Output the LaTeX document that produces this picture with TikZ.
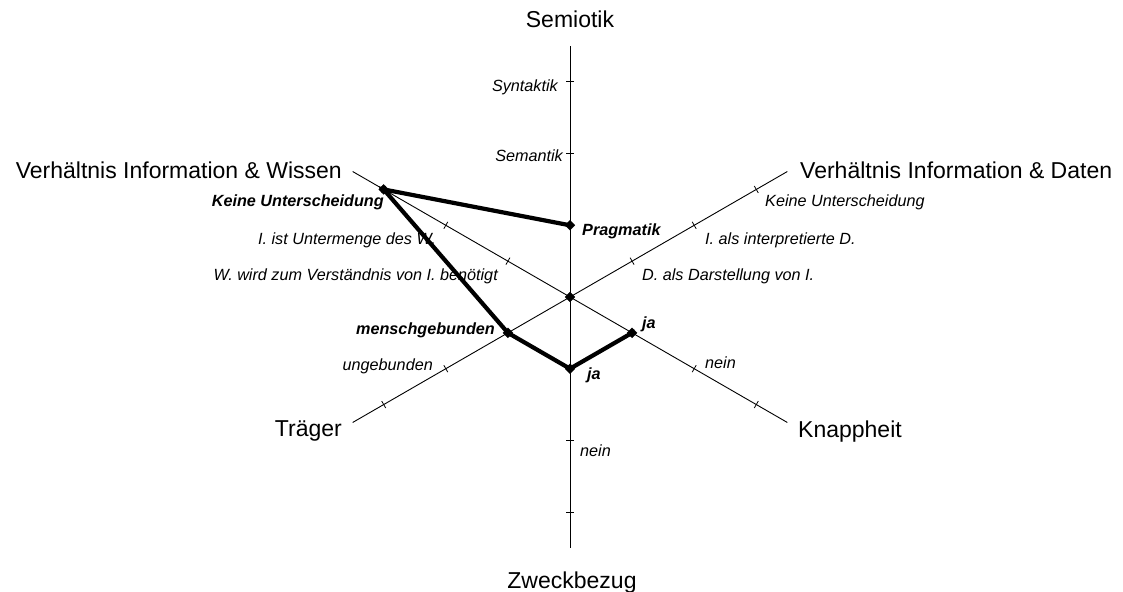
\documentclass[tikz,border=0pt]{standalone}
\usepackage{fontspec}
\setmainfont{Liberation Sans}
\usepackage{tikz}
\usetikzlibrary{shapes.geometric}

\newcommand\radstep{71.7}

\begin{document}
\begin{tikzpicture}[
  x=1pt, y=1pt,
  axisline/.style={line width=0.9pt},
  tickline/.style={line width=0.8pt},
  profile/.style={line width=4.2pt, line join=miter},
  datapt/.style={draw, fill, shape=diamond, inner sep=0pt, minimum size=10pt},
  biglabel/.style={inner sep=0pt, font=\fontsize{23}{27}\selectfont},
  scalelabel/.style={inner sep=0pt, font=\fontsize{16.2}{19}\selectfont\itshape},
  vallabel/.style={inner sep=0pt, font=\fontsize{16.2}{19}\selectfont\bfseries\itshape}
]
\useasboundingbox (-570,-294) rectangle (553,297);
\coordinate (O) at (0,0);
% axes with ticks
\foreach \ang/\nm in {90/sem,30/dat,-30/kna,-90/zwe,-150/tra,150/wis}{
  \coordinate (\nm-end) at (\ang:3.5*\radstep);
  \draw[axisline] (O) -- (\nm-end);
  \foreach \k in {1,2,3}
    \draw[tickline, rotate=\ang] (\k*\radstep,-4) -- (\k*\radstep,4);
}
% axis titles
\node[biglabel, anchor=base] (semiotik) at (0,269) {Semiotik};
\node[biglabel, anchor=base east] (wissen) at (-228,118) {Verhältnis Information \& Wissen};
\node[biglabel, anchor=base west] (daten) at (230,118) {Verhältnis Information \& Daten};
\node[biglabel, anchor=base east] (traeger) at (-228,-139) {Träger};
\node[biglabel, anchor=base west] (knappheit) at (228,-140) {Knappheit};
\node[biglabel, anchor=base] (zweck) at (2,-291) {Zweckbezug};
% scale texts
\node[scalelabel, anchor=base east] (syn) at (-12,205) {Syntaktik};
\node[scalelabel, anchor=base east] (sem) at (-7,135) {Semantik};
\node[scalelabel, anchor=base east] (wis2) at (-134,52) {I. ist Untermenge des W.};
\node[scalelabel, anchor=base east] (wis1) at (-72,16) {W. wird zum Verständnis von I. benötigt};
\node[scalelabel, anchor=base west] (dat3) at (195,90) {Keine Unterscheidung};
\node[scalelabel, anchor=base west] (dat2) at (135,52) {I. als interpretierte D.};
\node[scalelabel, anchor=base west] (dat1) at (72,16) {D. als Darstellung von I.};
\node[scalelabel, anchor=base east] (tra2) at (-137,-74) {ungebunden};
\node[scalelabel, anchor=base west] (kna2) at (135,-71) {nein};
\node[scalelabel, anchor=base west] (zwe2) at (10,-159) {nein};
% profile
\coordinate (prag) at (90:\radstep);
\coordinate (wisp) at (150:3*\radstep);
\coordinate (trap) at (-150:\radstep);
\coordinate (zwep) at (-90:\radstep);
\coordinate (knap) at (-30:\radstep);
\draw[profile] (prag) -- (wisp) -- (trap) -- (zwep) -- (knap);
\foreach \p in {O,prag,wisp,trap,zwep,knap}
  \node[datapt] (\p-pt) at (\p) {};
\node[vallabel, anchor=base west] (pragtxt) at (12,61) {Pragmatik};
\node[vallabel, anchor=base east] (wistxt) at (-186,90) {Keine Unterscheidung};
\node[vallabel, anchor=base east] (tratxt) at (-75,-38) {menschgebunden};
\node[vallabel, anchor=base west] (zwetxt) at (17,-82) {ja};
\node[vallabel, anchor=base west] (knatxt) at (72,-32) {ja};
\end{tikzpicture}
\end{document}
